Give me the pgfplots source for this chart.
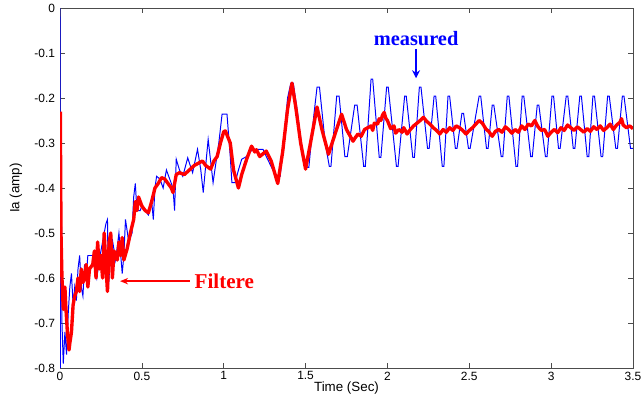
\documentclass[border=0pt]{standalone}
\usepackage{pgfplots}
\pgfplotsset{compat=1.18}
\usetikzlibrary{arrows.meta}
\usepackage{fontspec}
\setmainfont{Liberation Sans}
\newfontfamily\serifbold{Liberation Serif}
\begin{document}
\begin{tikzpicture}
\path[use as bounding box] (-15mm,-7.75mm) rectangle (146mm,92mm);
\begin{axis}[
  width=143.25mm, height=90mm, scale only axis,
  xmin=0, xmax=3.5, ymin=-0.8, ymax=0,
  xtick={0,0.5,1,1.5,2,2.5,3,3.5},
  ytick={-0.8,-0.7,-0.6,-0.5,-0.4,-0.3,-0.2,-0.1,0},
  yticklabels={-0.8,-0.7,-0.6,-0.5,-0.4,-0.3,-0.2,-0.1,0},
  xticklabels={0,0.5,1,1.5,2,2.5,3,3.5},
  tick align=inside, tick pos=both,
  major tick length=1.3mm,
  axis line style={black!70, line width=0.5pt},
  every tick/.style={black!70, line width=0.5pt},
  tick label style={font=\fontsize{8.5}{10}\selectfont},
  xticklabel style={yshift=0.3mm},
  xlabel={Time (Sec)}, ylabel={Ia (amp)},
  label style={font=\fontsize{9.5}{11}\selectfont},
  xlabel style={at={(axis description cs:0.5,-0.056)}, anchor=center},
  ylabel style={at={(axis description cs:-0.0768,0.5)}, anchor=center},
  clip=true,
]
\addplot[blue, line width=0.7pt] coordinates {
(0,0) (0.002,-0.8) (0.006,-0.24) (0.012,-0.7) (0.02,-0.79) (0.03,-0.72) (0.04,-0.77) (0.05,-0.68) (0.06,-0.62) (0.07,-0.59) (0.08,-0.66) (0.09,-0.62) (0.1,-0.65) (0.11,-0.58) (0.12,-0.55) (0.13,-0.62) (0.14,-0.64) (0.15,-0.57) (0.16,-0.6) (0.17,-0.55) (0.2,-0.55) (0.21,-0.57) (0.225,-0.6) (0.24,-0.56) (0.26,-0.52) (0.28,-0.48) (0.29,-0.47) (0.295,-0.62) (0.3,-0.6) (0.31,-0.52) (0.32,-0.515) (0.34,-0.56) (0.36,-0.5) (0.38,-0.59) (0.39,-0.55) (0.40,-0.47) (0.42,-0.52) (0.44,-0.5) (0.45,-0.42) (0.46,-0.39) (0.47,-0.45) (0.49,-0.45) (0.5,-0.44) (0.52,-0.45) (0.54,-0.46) (0.56,-0.43) (0.57,-0.47) (0.58,-0.40) (0.59,-0.374) (0.61,-0.38) (0.63,-0.40) (0.65,-0.36) (0.67,-0.38) (0.69,-0.40) (0.70,-0.45) (0.71,-0.336) (0.73,-0.36) (0.75,-0.374) (0.78,-0.333) (0.81,-0.366) (0.84,-0.314) (0.86,-0.36) (0.875,-0.41) (0.89,-0.35) (0.905,-0.292) (0.92,-0.34) (0.935,-0.388) (0.95,-0.35) (0.97,-0.3) (0.99,-0.236) (1.02,-0.236) (1.04,-0.33) (1.05,-0.388) (1.07,-0.388) (1.09,-0.36) (1.11,-0.336) (1.14,-0.33) (1.16,-0.32) (1.18,-0.314) (1.24,-0.314) (1.26,-0.33) (1.30,-0.36) (1.325,-0.374) (1.345,-0.374) (1.37,-0.28) (1.39,-0.2) (1.41,-0.167) (1.425,-0.167) (1.45,-0.23) (1.48,-0.32) (1.50,-0.354) (1.52,-0.354) (1.55,-0.24) (1.57,-0.176) (1.585,-0.176) (1.62,-0.3) (1.645,-0.352) (1.655,-0.352) (1.69,-0.196) (1.705,-0.196) (1.74,-0.33) (1.755,-0.33) (1.80,-0.216) (1.815,-0.216) (1.855,-0.352) (1.865,-0.352) (1.90,-0.158) (1.91,-0.158) (1.95,-0.332) (1.96,-0.332) (1.995,-0.176) (2.005,-0.176) (2.055,-0.352) (2.065,-0.352) (2.105,-0.196) (2.115,-0.196) (2.155,-0.332) (2.165,-0.332) (2.195,-0.176) (2.205,-0.176) (2.245,-0.312) (2.255,-0.312) (2.285,-0.196) (2.295,-0.196) (2.335,-0.352) (2.345,-0.352) (2.37,-0.196) (2.38,-0.196) (2.415,-0.312) (2.425,-0.312) (2.455,-0.234) (2.465,-0.234) (2.495,-0.312) (2.505,-0.312) (2.56,-0.196) (2.57,-0.196) (2.605,-0.312) (2.615,-0.312) (2.64,-0.216) (2.65,-0.216) (2.695,-0.33) (2.705,-0.33) (2.732,-0.196) (2.742,-0.196) (2.785,-0.352) (2.795,-0.352) (2.823,-0.196) (2.833,-0.196) (2.875,-0.33) (2.885,-0.33) (2.915,-0.216) (2.925,-0.216) (2.965,-0.33) (2.975,-0.33) (3.005,-0.196) (3.015,-0.196) (3.045,-0.312) (3.055,-0.312) (3.092,-0.196) (3.102,-0.196) (3.135,-0.312) (3.145,-0.312) (3.175,-0.196) (3.185,-0.196) (3.22,-0.33) (3.23,-0.33) (3.255,-0.196) (3.265,-0.196) (3.305,-0.33) (3.315,-0.33) (3.345,-0.196) (3.355,-0.196) (3.395,-0.312) (3.405,-0.312) (3.435,-0.196) (3.445,-0.196) (3.485,-0.312) (3.5,-0.312)
};
\addplot[red, line width=2.4pt, line join=round] coordinates {
(0.002,-0.23) (0.006,-0.5) (0.012,-0.6) (0.02,-0.67) (0.03,-0.62) (0.035,-0.66) (0.045,-0.72) (0.055,-0.76) (0.06,-0.745) (0.07,-0.72) (0.08,-0.66) (0.09,-0.64) (0.1,-0.63) (0.11,-0.6) (0.12,-0.63) (0.13,-0.58) (0.14,-0.61) (0.15,-0.6) (0.16,-0.57) (0.17,-0.62) (0.18,-0.58) (0.2,-0.57) (0.21,-0.54) (0.22,-0.6) (0.23,-0.52) (0.24,-0.58) (0.25,-0.55) (0.26,-0.6) (0.27,-0.5) (0.28,-0.57) (0.29,-0.63) (0.3,-0.52) (0.31,-0.5) (0.32,-0.6) (0.33,-0.54) (0.35,-0.56) (0.36,-0.52) (0.37,-0.55) (0.38,-0.51) (0.39,-0.56) (0.41,-0.535) (0.43,-0.5) (0.45,-0.47) (0.46,-0.43) (0.47,-0.45) (0.48,-0.42) (0.5,-0.44) (0.52,-0.45) (0.54,-0.455) (0.56,-0.43) (0.58,-0.40) (0.6,-0.39) (0.62,-0.377) (0.64,-0.38) (0.66,-0.39) (0.68,-0.40) (0.69,-0.41) (0.71,-0.37) (0.73,-0.366) (0.76,-0.37) (0.79,-0.36) (0.82,-0.35) (0.855,-0.343) (0.87,-0.34) (0.89,-0.35) (0.92,-0.358) (0.94,-0.34) (0.96,-0.33) (0.98,-0.30) (1.0,-0.275) (1.01,-0.273) (1.04,-0.30) (1.06,-0.36) (1.09,-0.40) (1.11,-0.37) (1.14,-0.336) (1.17,-0.307) (1.19,-0.32) (1.2,-0.315) (1.22,-0.33) (1.26,-0.318) (1.29,-0.34) (1.33,-0.39) (1.36,-0.32) (1.39,-0.225) (1.417,-0.167) (1.44,-0.22) (1.47,-0.3) (1.50,-0.358) (1.53,-0.30) (1.57,-0.22) (1.60,-0.27) (1.64,-0.325) (1.68,-0.28) (1.72,-0.236) (1.75,-0.27) (1.79,-0.296)
(1.80,-0.29) (1.82,-0.28) (1.84,-0.285) (1.86,-0.27) (1.88,-0.266) (1.90,-0.262) (1.91,-0.272) (1.92,-0.256) (1.94,-0.258) (1.95,-0.246) (1.96,-0.25) (1.97,-0.238) (1.98,-0.232) (1.99,-0.245) (2.00,-0.25) (2.02,-0.268) (2.04,-0.262) (2.05,-0.278) (2.07,-0.27) (2.09,-0.276) (2.10,-0.266) (2.12,-0.28) (2.14,-0.27) (2.16,-0.262) (2.18,-0.256) (2.20,-0.25) (2.22,-0.243) (2.24,-0.252) (2.26,-0.258) (2.28,-0.266) (2.30,-0.272) (2.32,-0.28) (2.34,-0.27) (2.36,-0.276) (2.38,-0.266) (2.40,-0.272) (2.42,-0.262) (2.44,-0.266) (2.46,-0.272) (2.48,-0.28) (2.50,-0.272) (2.52,-0.266) (2.54,-0.258) (2.56,-0.25) (2.58,-0.256) (2.60,-0.268) (2.62,-0.275) (2.64,-0.285) (2.66,-0.274) (2.68,-0.27) (2.70,-0.276) (2.72,-0.264) (2.74,-0.27) (2.76,-0.278) (2.78,-0.27) (2.80,-0.276) (2.82,-0.262) (2.84,-0.27) (2.86,-0.258) (2.88,-0.262) (2.90,-0.25) (2.92,-0.264) (2.94,-0.272) (2.96,-0.27) (2.98,-0.285) (3.00,-0.276) (3.02,-0.27) (3.04,-0.277) (3.06,-0.266) (3.08,-0.272) (3.10,-0.26) (3.12,-0.266) (3.14,-0.272) (3.16,-0.264) (3.18,-0.27) (3.20,-0.276) (3.22,-0.268) (3.24,-0.274) (3.26,-0.264) (3.28,-0.27) (3.30,-0.262) (3.32,-0.272) (3.34,-0.266) (3.36,-0.258) (3.38,-0.27) (3.40,-0.26) (3.42,-0.254) (3.43,-0.246) (3.44,-0.26) (3.46,-0.266) (3.48,-0.262) (3.50,-0.268)
};
\addplot[blue, line width=1pt, -{Stealth[length=2mm,width=2mm]}] coordinates {(2.175,-0.091) (2.175,-0.156)}
  node[pos=0, anchor=south, inner sep=1pt, yshift=0.2mm, font=\serifbold\bfseries\fontsize{14.5}{16}\selectfont] {measured};
\addplot[red, line width=1pt, -{Stealth[length=2mm,width=1.6mm]}] coordinates {(0.794,-0.607) (0.367,-0.607)}
  node[pos=0, anchor=west, inner sep=0pt, xshift=1mm, font=\serifbold\bfseries\fontsize{15}{17}\selectfont] {Filtere};
\end{axis}
\end{tikzpicture}
\end{document}
